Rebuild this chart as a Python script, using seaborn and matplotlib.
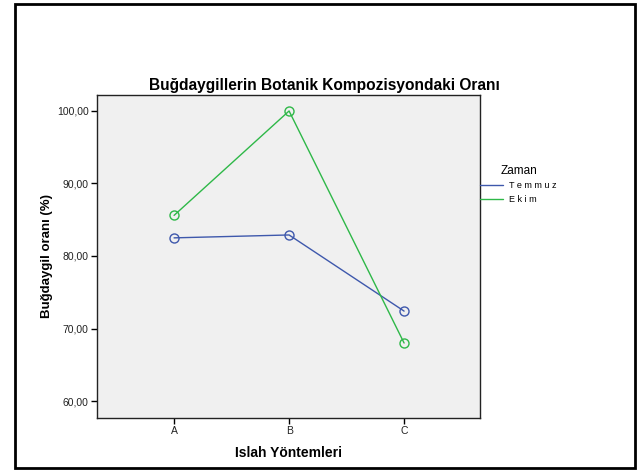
import pandas as pd
import matplotlib.pyplot as plt
import seaborn as sns
from matplotlib.patches import Rectangle
from matplotlib.lines import Line2D

# Data
yontem = ['A', 'B', 'C']
temmuz = [82.5, 82.9, 72.4]
ekim = [85.6, 100.0, 68.0]
zaman = ['Temmuz', 'Ekim']
colors = {'Temmuz': '#3e58ac', 'Ekim': '#2eb848'}

df = pd.DataFrame({
    'Yontem': yontem * 2,
    'Oran': temmuz + ekim,
    'Zaman': ['Temmuz'] * 3 + ['Ekim'] * 3,
})

sns.set_style('white')
plt.rcParams['font.family'] = ['Liberation Sans', 'DejaVu Sans']
plt.rcParams['text.color'] = 'black'

fig = plt.figure(figsize=(6.38, 4.70), dpi=100)
ax = fig.add_axes([97 / 638, 1 - 418 / 470, 383 / 638, 323 / 470])
ax.set_facecolor('#f0f0f0')

sns.lineplot(data=df, x='Yontem', y='Oran', hue='Zaman', hue_order=zaman,
             palette=colors, marker='o', markersize=6.5, markerfacecolor='none',
             markeredgewidth=1, linewidth=1, ax=ax, legend=False)
for line in ax.lines:
    line.set_markeredgecolor(line.get_color())

ax.set_xlim(-0.67, 2.66)
ax.set_ylim(57.66, 102.2)
ax.set_yticks([60, 70, 80, 90, 100])
ax.set_yticklabels(['60,00', '70,00', '80,00', '90,00', '100,00'])
ax.tick_params(axis='both', labelsize=7.5, length=4, width=1, colors='black',
               labelcolor='#222222', direction='out', left=True, bottom=True, pad=2)
for s in ax.spines.values():
    s.set_color('#222222')
    s.set_linewidth(1)

ax.set_xlabel('Islah Yöntemleri', fontsize=10, fontweight='bold', labelpad=7,
              color='black')
ax.set_ylabel('Buğdaygil oranı (%)', fontsize=9.5, fontweight='bold', labelpad=3,
              color='black')

fig.text(324 / 638, 1 - 86 / 470, 'Buğdaygillerin Botanik Kompozisyondaki Oranı',
         ha='center', va='center', fontsize=11.2, fontweight='bold')

# Legend
fig.text(501 / 638, 1 - 171 / 470, 'Zaman', ha='left', va='center', fontsize=8.5)
handles = [Line2D([], [], color=colors[z], lw=1) for z in zaman]
fig.legend(handles, ['T e m m u z', 'E k i m'], loc='upper left',
           bbox_to_anchor=(480 / 638, 1 - 181 / 470), frameon=False, fontsize=6.5,
           handlelength=2.55, handletextpad=0.65, borderpad=0, borderaxespad=0,
           labelspacing=0.55)

# Outer frame
fig.patches.append(Rectangle((15 / 638, 1 - 468 / 470), 620 / 638, 464 / 470,
                             transform=fig.transFigure, fill=False,
                             edgecolor='black', linewidth=2))

fig.savefig('out.png', dpi=100)
